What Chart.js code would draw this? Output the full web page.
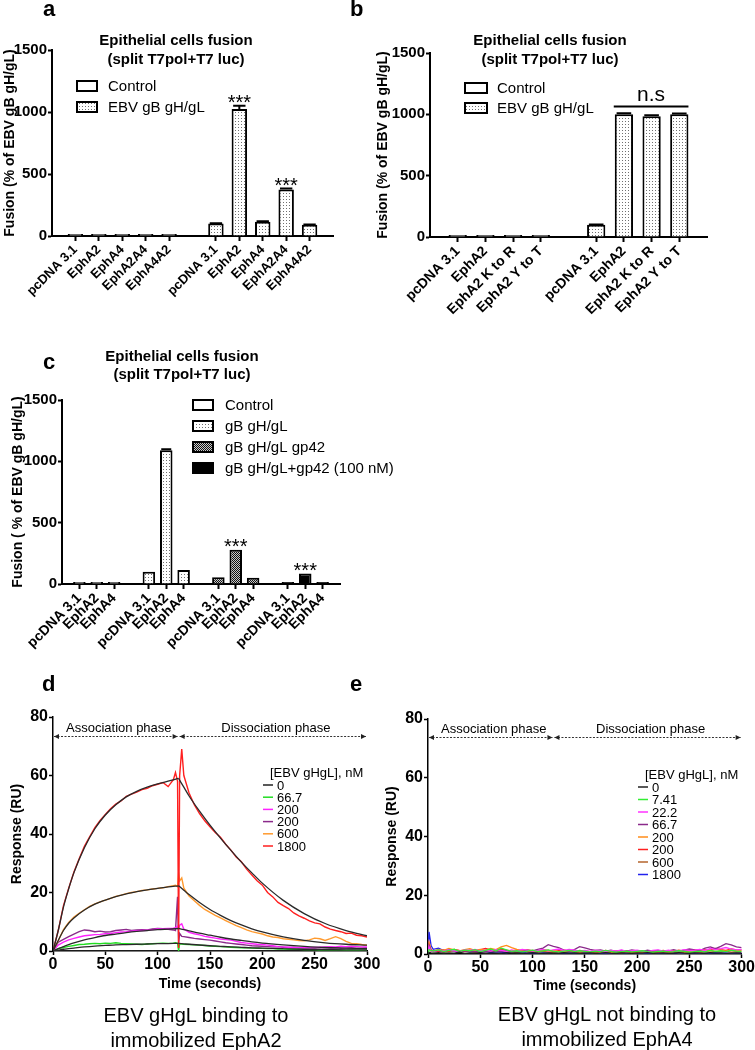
<!DOCTYPE html>
<html><head><meta charset="utf-8">
<script src="https://cdn.jsdelivr.net/npm/chart.js"></script>
<style>
html,body{margin:0;padding:0;background:#fff;}
body{width:755px;height:1050px;position:relative;overflow:hidden;font-family:'Liberation Sans',Arial,Helvetica,sans-serif;}
canvas{position:absolute;}
.t{position:absolute;color:#000;white-space:nowrap;}
.lab{font-weight:bold;font-size:22px;line-height:22px;}
.ttl{font-weight:bold;font-size:15px;line-height:19px;text-align:center;width:260px;}
.cap{font-size:20px;line-height:25px;text-align:center;width:300px;}
</style></head>
<body>
<canvas id="ca" width="375" height="330" style="left:0;top:0"></canvas>
<canvas id="cb" width="380" height="330" style="left:375px;top:0"></canvas>
<canvas id="cc" width="420" height="330" style="left:0;top:330px"></canvas>
<canvas id="cd" width="395" height="355" style="left:0;top:640px"></canvas>
<canvas id="ce" width="380" height="355" style="left:375px;top:640px"></canvas>

<div class="t lab" style="left:43px;top:-2px">a</div>
<div class="t lab" style="left:350px;top:-2px">b</div>
<div class="t lab" style="left:43px;top:351px">c</div>
<div class="t lab" style="left:42px;top:673px">d</div>
<div class="t lab" style="left:350px;top:673px">e</div>

<div class="t ttl" style="left:46px;top:30px">Epithelial cells fusion<br>(split T7pol+T7 luc)</div>
<div class="t ttl" style="left:420px;top:30px">Epithelial cells fusion<br>(split T7pol+T7 luc)</div>
<div class="t ttl" style="left:52px;top:347px;line-height:18px">Epithelial cells fusion<br>(split T7pol+T7 luc)</div>

<div class="t cap" style="left:46px;top:1003px">EBV gHgL binding to<br>immobilized EphA2</div>
<div class="t cap" style="left:457px;top:1002px">EBV gHgL not binding to<br>immobilized EphA4</div>

<script>
// ================= DATA =================
// Panel a
const aLabels = ['', 'pcDNA 3.1', 'EphA2', 'EphA4', 'EphA2A4', 'EphA4A2', '', 'pcDNA 3.1', 'EphA2', 'EphA4', 'EphA2A4', 'EphA4A2', ''];
const aControl = [null, 5, 8, 5, 6, 5, null, null, null, null, null, null, null];
const aEBV = [null, null, null, null, null, null, null, 100, 1025, 115, 375, 90, null];
const aEBVErr = [0, 0, 0, 0, 0, 0, 0, 3, 25, 3, 8, 3, 0];
const aEBVSig = [null, null, null, null, null, null, null, null, '***', null, '***', null, null];

// Panel b
const bLabels = ['', 'pcDNA 3.1', 'EphA2', 'EphA2 K to R', 'EphA2 Y to T', '', 'pcDNA 3.1', 'EphA2', 'EphA2 K to R', 'EphA2 Y to T', ''];
const bControl = [null, 3, 3, 6, 3, null, null, null, null, null, null];
const bEBV = [null, null, null, null, null, null, 100, 1000, 985, 1000, null];
const bEBVErr = [0, 0, 0, 0, 0, 0, 2, 8, 8, 6, 0];
const bNsValue = 1068;

// Panel c
const cLabels = ['', 'pcDNA 3.1', 'EphA2', 'EphA4', '', 'pcDNA 3.1', 'EphA2', 'EphA4', '', 'pcDNA 3.1', 'EphA2', 'EphA4', '', 'pcDNA 3.1', 'EphA2', 'EphA4', ''];
const cControl = [null, 5, 12, 8, null, null, null, null, null, null, null, null, null, null, null, null, null];
const cGB = [null, null, null, null, null, 100, 1090, 115, null, null, null, null, null, null, null, null, null];
const cGBErr = [0, 0, 0, 0, 0, 0, 8, 0, 0, 0, 0, 0, 0, 0, 0, 0, 0];
const cGp42 = [null, null, null, null, null, null, null, null, null, 55, 280, 50, null, null, null, null, null];
const cGp42Sig = [null, null, null, null, null, null, null, null, null, null, '***', null, null, null, null, null, null];
const cGp42nM = [null, null, null, null, null, null, null, null, null, null, null, null, null, 5, 85, 15, null];
const cGp42nMSig = [null, null, null, null, null, null, null, null, null, null, null, null, null, null, '***', null, null];

// Panel d (time in seconds)
const dTimes = [0,5,10,15,20,25,30,35,40,45,50,55,60,65,70,75,80,85,90,95,100,105,110,115,
  117,119,120,121,123,125,
  130,135,140,145,150,155,160,165,170,175,180,185,190,195,200,205,210,215,220,225,230,235,240,245,250,255,260,265,270,275,280,285,290,295,300];
const d1800 = [0,7,15.5,21.5,27,31.5,35.8,39,42.2,44.6,46.7,48.6,50.2,51.3,52.9,53.6,54.3,55.2,55.6,56.5,57,57.6,56.2,58.6,
  61,58,1,60,69,60,
  54,50,47,44.5,42.5,40.5,38.9,36.5,34.5,32.1,30.5,28,26,24,22.5,20,18.5,16.6,15.5,14.5,13,12,11.2,10.3,9.6,9.3,8.2,7.5,7,6.6,6,6.1,5.4,5.2,4.8];
const d600 = [0,3.5,7.3,9.8,11.6,12.9,14.1,15.3,16.1,16.8,17.4,18,18.7,19.1,19.6,20,20.3,20.7,20.9,21.2,21.4,21.6,22,22.3,
  22.5,22,26.5,24,25,21.5,
  18.8,17.2,15.6,14.2,13.2,12.2,11.3,10.4,9.5,8.7,8,7.2,6.6,6.2,5.8,5.2,4.8,4.6,4.2,4,3.8,3.6,3.5,3.8,4.4,4.2,3.6,4.2,4.9,4.2,3.3,2.6,2.5,2.2,2];
const d200b = [0,3,4,4.9,5.8,6.6,7.2,7,6.6,6.8,6.5,6.6,7,7.2,7.4,7,7.2,7.3,7.2,7.5,7.7,7.6,7.4,7.2,
  7,18.5,2.7,6,5,4.9,
  4.6,4.3,4.1,3.9,3.7,3.4,3.1,2.8,2.6,2.4,2.2,2,1.8,1.7,1.6,1.5,1.4,1.5,1.3,1.2,1.3,1.1,1.2,1.1,1,1.2,1.1,1,1.1,0.9,1,1.1,0.9,1,1.1];
const d200a = [0,2,3,3.8,4.3,4.8,5.2,5.4,5.6,5.7,5.9,6,6.3,6.5,6.6,6.8,6.9,7,7.1,7.3,7.5,7.6,7.7,7.8,
  8,8.5,7.5,8.8,9.3,7.5,
  6.4,5.9,5.5,5,4.7,4.4,4.1,3.9,3.7,3.3,2.9,2.7,2.5,2.3,2.2,2,1.8,1.5,1.4,1.3,1.2,1.2,1.1,1.1,1.2,1.3,1.4,1.5,1.4,1.6,1.5,1.6,1.5,1.4,1.4];
const d66 = [0,0.8,1.2,1.6,1.9,2.2,2.3,2.5,2.6,2.5,2.7,2.6,2.8,2.6,2.5,2.4,2.3,2.2,2.4,2.5,2.6,2.7,2.6,2.7,
  2.8,2.6,0.1,2.5,2.4,2.3,
  2.2,2.1,2,1.9,1.7,1.6,1.5,1.4,1.3,1.2,1.1,1.1,1,0.9,0.9,0.8,0.8,0.7,0.7,0.6,0.6,0.6,0.5,0.5,0.5,0.4,0.5,0.4,0.4,0.4,0.3,0.4,0.3,0.3,0.3];
const dZeroTimes = [0, 300];
const d0 = [0, 0];
// fitted curves
const fitAssocTimes = [0,5,10,15,20,30,40,50,60,70,80,90,100,110,120];
const fitDissTimes = [120,125,130,140,150,160,170,180,190,200,220,240,260,280,300];
const fit1800Assoc = [0,7,15,21.3,26.8,35.3,41.8,46.5,50,52.7,54.6,56,57.1,58.1,59];
const fit1800Diss = [59,56,53,47.8,43,38.6,34.4,30.4,26.7,23.2,17.3,12.8,9.4,7,5.2];
const fit600Assoc = [0,3.6,7,9.5,11.3,14,16,17.4,18.6,19.5,20.3,20.9,21.4,21.9,22.3];
const fit600Diss = [22.3,20.8,19.3,16.6,14.2,12.2,10.4,8.9,7.6,6.5,4.8,3.6,2.8,2.3,2];
const fit200Assoc = [0,0.8,1.5,2.2,2.8,3.8,4.6,5.3,5.8,6.3,6.7,7,7.3,7.5,7.7];
const fit200Diss = [7.7,7.3,6.9,6.1,5.4,4.7,4.1,3.6,3.1,2.7,2.1,1.6,1.2,1,0.8];
const fit66Assoc = [0,0.3,0.6,0.8,1,1.4,1.7,1.9,2.1,2.2,2.3,2.4,2.5,2.55,2.6];
const fit66Diss = [2.6,2.45,2.3,2.05,1.8,1.6,1.4,1.25,1.1,1,0.8,0.6,0.5,0.4,0.35];
const dLegendLabels = ['0', '66.7', '200', '200', '600', '1800'];

// Panel e
const eTimes = [0,1,3,5,10,15,20,25,30,35,40,45,50,55,60,65,70,75,80,85,90,95,100,105,110,115,120,125,130,135,140,145,150,
  155,160,165,170,175,180,185,190,195,200,205,210,215,220,225,230,235,240,245,250,255,260,265,270,275,280,285,290,295,300];
const e0 = [0,0.6,0.4, 0.3,0.5,0.2,0.4,0.3,0.6,0.2,0.4,0.3,0.5, 0.2,0.4,0.3,0.2,0.5,0.3,0.4,0.2,0.3,0.5, 0.3,0.2,0.4,0.3,0.2,0.5,0.3,0.4,0.2,0.3, 0.4,0.2,0.3,0.5,0.3,0.2,0.4,0.3,0.2,0.4, 0.3,0.5,0.2,0.3,0.4,0.2,0.3,0.5,0.3,0.2, 0.4,0.3,0.2,0.5,0.3,0.4,0.2,0.3,0.4,0.3];
const e741 = [0,1.5,1.2, 1.0,1.4,0.8,1.2,1.6,0.9,1.3,1.1,1.5,0.8, 1.2,1.7,1.0,2.0,1.4,0.9,1.1,0.7,1.0,1.3, 0.8,1.1,1.4,0.9,0.7,1.0,1.2,0.8,1.1,0.9, 0.7,1.0,0.8,1.2,0.9,0.6,0.8,1.0,0.7,0.9, 1.1,0.8,0.6,0.9,1.0,0.7,0.8,1.1,0.9,0.6, 0.8,1.0,0.7,1.2,0.9,1.1,0.8,1.3,1.0,0.9];
const e222 = [0,2.5,1.0, 0.8,1.3,1.0,1.5,1.1,0.9,1.4,1.2,1.6,1.0, 1.3,1.0,1.5,1.2,0.9,1.4,1.1,1.6,1.3,1.0, 1.2,1.5,1.1,1.4,1.7,1.2,1.6,1.3,1.0,1.2, 0.9,1.3,1.1,0.8,1.2,1.0,1.4,0.9,1.1,1.3, 1.0,0.8,1.2,1.4,1.0,1.3,0.9,1.1,1.5,1.2, 1.3,1.6,1.2,1.9,1.5,1.8,2.2,1.7,1.4,1.6];
const e667 = [0,3,1.2, 0.9,1.2,0.7,1.5,1.0,0.8,1.1,0.9,0.7,1.0, 0.8,1.1,0.9,0.7,1.2,0.8,1.0,0.9,1.3,1.1, 1.6,2.0,3.2,2.6,2.2,1.3,0.9,1.5,2.5,2.1, 1.6,1.2,1.4,1.0,1.3,0.9,1.2,1.0,1.4,1.1, 0.9,1.3,1.0,1.2,0.8,1.1,1.5,1.0,1.3,1.7, 1.4,1.2,2.0,2.4,1.8,2.6,3.5,3.1,2.4,2.2];
const e200a = [0,4,1.5, 1.0,1.6,1.2,1.9,1.4,1.1,1.5,1.8,1.2,1.6, 1.3,1.9,1.5,2.4,2.9,2.2,1.6,1.2,1.5,1.1, 0.9,1.3,1.0,1.2,0.8,1.1,0.9,1.2,0.8,1.0, 0.7,1.0,0.8,1.1,0.6,0.9,0.7,1.0,0.8,0.6, 0.9,0.7,1.0,0.8,0.6,0.9,1.1,0.8,0.7,1.0, 1.2,0.9,1.4,1.1,1.6,1.3,1.0,1.5,1.2,1.4];
const e200b = [0,3.5,1.3, 1.1,0.8,1.4,1.0,1.6,1.2,0.9,1.3,1.1,1.5, 1.9,1.4,1.2,1.7,1.3,1.0,1.4,1.1,0.9,1.2, 1.0,1.4,1.2,0.9,1.1,1.3,1.0,0.8,1.2,1.0, 0.8,1.1,0.9,1.2,0.7,1.0,0.8,1.1,0.9,0.7, 1.0,0.8,1.1,0.9,1.2,0.8,1.0,1.3,0.9,1.1, 1.4,1.1,1.6,1.3,1.9,1.5,1.2,1.7,1.4,1.3];
const e600 = [0,2.5,0.9, 0.7,1.0,0.6,0.9,1.1,0.7,0.8,1.0,0.6,0.9, 0.7,1.0,0.8,1.2,0.9,0.7,0.6,0.9,0.7,0.8, 0.6,0.9,0.7,0.5,0.8,0.6,0.9,0.7,0.5,0.8, 0.6,0.4,0.7,0.5,0.8,0.6,0.4,0.7,0.5,0.6, 0.5,0.7,0.4,0.6,0.8,0.5,0.7,0.4,0.6,0.5, 0.7,0.5,0.8,0.6,0.9,0.7,1.0,0.6,0.8,0.7];
const e1800 = [0,7.5,2.8, 1.6,2.0,1.2,0.9,1.3,0.8,1.0,0.7,0.9,0.6, 0.8,0.5,0.7,0.6,0.4,0.7,0.5,0.6,0.4,0.5, 0.3,0.5,0.4,0.6,0.3,0.5,0.4,0.3,0.5,0.4, 0.3,0.4,0.2,0.4,0.3,0.5,0.3,0.2,0.4,0.3, 0.2,0.4,0.3,0.2,0.4,0.3,0.5,0.3,0.2,0.4, 0.3,0.2,0.4,0.3,0.5,0.3,0.4,0.2,0.3,0.4];
const eLegendLabels = ['0', '7.41', '22.2', '66.7', '200', '200', '600', '1800'];

// ================= STYLE / HELPERS =================
const FONT = "'Liberation Sans', Arial, Helvetica, sans-serif";
const NARROW = "'Liberation Sans Narrow', 'Arial Narrow', 'Liberation Sans', Arial, sans-serif";
Chart.defaults.font.family = FONT;
Chart.defaults.color = '#000';
const plainNum = v => String(v);

function pattern(kind) {
  const c = document.createElement('canvas');
  const x = c.getContext('2d');
  if (kind === 'dots') {
    c.width = 3; c.height = 3;
    x.fillStyle = '#fff'; x.fillRect(0, 0, 3, 3);
    x.fillStyle = '#707070'; x.fillRect(1, 1, 1, 1);
  } else {
    c.width = 2; c.height = 2;
    x.fillStyle = '#c8c8c8'; x.fillRect(0, 0, 2, 2);
    x.fillStyle = '#111'; x.fillRect(0, 0, 1, 1); x.fillRect(1, 1, 1, 1);
  }
  return document.createElement('canvas').getContext('2d').createPattern(c, 'repeat');
}
const DOTS = pattern('dots');
const CHECK = pattern('check');

const errPlugin = {
  id: 'errbars',
  afterDatasetsDraw(chart) {
    const ctx = chart.ctx, y = chart.scales.y;
    chart.data.datasets.forEach((ds, di) => {
      if (!ds.errorBars) return;
      const meta = chart.getDatasetMeta(di);
      meta.data.forEach((bar, i) => {
        const v = ds.data[i], e = ds.errorBars[i];
        if (v == null || !e) return;
        const top = y.getPixelForValue(v + e), base = y.getPixelForValue(v);
        const hw = bar.width * 0.4;
        ctx.save(); ctx.strokeStyle = '#000'; ctx.lineWidth = 2;
        ctx.beginPath(); ctx.moveTo(bar.x, base); ctx.lineTo(bar.x, top);
        ctx.moveTo(bar.x - hw, top); ctx.lineTo(bar.x + hw, top); ctx.stroke(); ctx.restore();
      });
    });
  }
};
const sigPlugin = {
  id: 'sig',
  afterDatasetsDraw(chart) {
    const ctx = chart.ctx, y = chart.scales.y;
    chart.data.datasets.forEach((ds, di) => {
      if (!ds.sig) return;
      const meta = chart.getDatasetMeta(di);
      ds.sig.forEach((s, i) => {
        if (!s) return;
        const bar = meta.data[i];
        const v = ds.data[i] + ((ds.errorBars && ds.errorBars[i]) || 0);
        ctx.save(); ctx.font = '20px ' + FONT; ctx.fillStyle = '#000';
        ctx.textAlign = 'center'; ctx.textBaseline = 'alphabetic';
        ctx.fillText(s, bar.x, y.getPixelForValue(v) + 3); ctx.restore();
      });
    });
  }
};
function boxLegend(cfg) {
  return {
    id: 'boxLegend',
    afterDraw(chart) {
      const ctx = chart.ctx;
      ctx.save(); ctx.font = cfg.size + 'px ' + FONT; ctx.textBaseline = 'middle'; ctx.textAlign = 'left';
      chart.data.datasets.forEach((ds, i) => {
        const yc = cfg.y + i * cfg.dy;
        ctx.fillStyle = ds.backgroundColor;
        ctx.fillRect(cfg.x, yc - cfg.h / 2, cfg.w, cfg.h);
        ctx.lineWidth = 2; ctx.strokeStyle = '#000';
        ctx.strokeRect(cfg.x, yc - cfg.h / 2, cfg.w, cfg.h);
        ctx.fillStyle = '#000';
        ctx.fillText(ds.label, cfg.tx, yc + 1);
      });
      ctx.restore();
    }
  };
}
function nsPlugin(cfg) {
  return {
    id: 'ns',
    afterDatasetsDraw(chart) {
      const ctx = chart.ctx, y = chart.scales.y;
      const meta = chart.getDatasetMeta(cfg.ds);
      const b0 = meta.data[cfg.from], b1 = meta.data[cfg.to];
      const x0 = b0.x - b0.width / 2 - 1, x1 = b1.x + b1.width / 2;
      const py = Math.round(y.getPixelForValue(cfg.value)) + 0.5;
      ctx.save(); ctx.strokeStyle = '#000'; ctx.lineWidth = 2;
      ctx.beginPath(); ctx.moveTo(x0, py); ctx.lineTo(x1, py); ctx.stroke();
      ctx.font = '21px ' + FONT; ctx.fillStyle = '#000'; ctx.textAlign = 'center'; ctx.textBaseline = 'alphabetic';
      ctx.fillText(cfg.text, (x0 + x1) / 2, py - 6);
      ctx.restore();
    }
  };
}
function lineLegend(cfg) {
  return {
    id: 'lineLegend',
    afterDraw(chart) {
      const ctx = chart.ctx;
      ctx.save(); ctx.font = cfg.size + 'px ' + FONT; ctx.textBaseline = 'middle'; ctx.textAlign = 'left'; ctx.fillStyle = '#000';
      ctx.fillText(cfg.title, cfg.x, cfg.ty);
      cfg.items.forEach((it, i) => {
        const yc = cfg.iy + i * cfg.dy;
        ctx.strokeStyle = it.color; ctx.lineWidth = 1.5;
        ctx.beginPath(); ctx.moveTo(cfg.lx, yc); ctx.lineTo(cfg.lx + 10, yc); ctx.stroke();
        ctx.fillStyle = '#000'; ctx.fillText(it.text, cfg.tx, yc + 1);
      });
      ctx.restore();
    }
  };
}
function phasePlugin(cfg) {
  return {
    id: 'phases',
    afterDraw(chart) {
      const ctx = chart.ctx, xs = chart.scales.x, ys = chart.scales.y;
      const py = Math.round(ys.getPixelForValue(cfg.value)) + 0.5;
      const segs = [[0, cfg.split, cfg.labels[0]], [cfg.split, 300, cfg.labels[1]]];
      ctx.save();
      segs.forEach(([a, b, txt]) => {
        const xa = xs.getPixelForValue(a) + 1, xb = xs.getPixelForValue(b) - 1;
        ctx.strokeStyle = '#333'; ctx.lineWidth = 1; ctx.setLineDash([2, 1.5]);
        ctx.beginPath(); ctx.moveTo(xa, py); ctx.lineTo(xb, py); ctx.stroke();
        ctx.setLineDash([]); ctx.fillStyle = '#222';
        ctx.beginPath(); ctx.moveTo(xa, py); ctx.lineTo(xa + 5, py - 2.5); ctx.lineTo(xa + 5, py + 2.5); ctx.closePath(); ctx.fill();
        ctx.beginPath(); ctx.moveTo(xb, py); ctx.lineTo(xb - 5, py - 2.5); ctx.lineTo(xb - 5, py + 2.5); ctx.closePath(); ctx.fill();
        ctx.font = '13px ' + FONT; ctx.fillStyle = '#000'; ctx.textAlign = 'center'; ctx.textBaseline = 'alphabetic';
        ctx.fillText(txt, (xa + xb) / 2 + 3, py - 5);
      });
      ctx.restore();
    }
  };
}

function barDs(label, data, fill, pct, extra) {
  return Object.assign({
    label, data, backgroundColor: fill, borderColor: '#000', borderWidth: 2,
    grouped: false, categoryPercentage: 1, barPercentage: pct, minBarLength: 2
  }, extra || {});
}

function barChart(id, labels, datasets, o, extraPlugins) {
  return new Chart(document.getElementById(id), {
    type: 'bar',
    data: { labels, datasets },
    options: {
      responsive: false, animation: false, devicePixelRatio: 1,
      layout: { padding: { top: o.top, right: o.right, left: 0, bottom: 0 } },
      plugins: { legend: { display: false }, tooltip: { enabled: false } },
      scales: {
        x: {
          type: 'category', offset: false,
          afterFit: s => { s.height = o.xh; },
          grid: { display: true, offset: false, drawOnChartArea: false, drawTicks: true, tickLength: 5, tickWidth: 2,
                  tickColor: c => (c.tick && c.tick.label) ? '#000' : 'rgba(0,0,0,0)' },
          border: { display: true, color: '#000', width: 2 },
          ticks: { autoSkip: false, maxRotation: 45, minRotation: 45, padding: 1, font: { size: o.xFont, weight: 'bold' }, color: '#000' }
        },
        y: {
          min: 0, max: 1500,
          afterFit: s => { s.width = o.yw; },
          ticks: { stepSize: 500, padding: 1, callback: plainNum, font: { family: NARROW, size: 15, weight: 'bold' }, color: '#000' },
          grid: { display: true, drawOnChartArea: false, drawTicks: true, tickLength: 4, tickWidth: 2, tickColor: '#000' },
          border: { display: true, color: '#000', width: 2 },
          title: { display: true, text: o.ytitle, font: { size: 14, weight: 'bold' }, color: '#000', padding: { top: o.ytp, bottom: 0 } }
        }
      }
    },
    plugins: [errPlugin, sigPlugin].concat(extraPlugins || [])
  });
}

function toXY(times, vals) { return vals.map((v, i) => ({ x: times[i], y: v })); }
function lineDs(label, times, vals, color, order, w) {
  return { label, data: toXY(times, vals), borderColor: color, borderWidth: w || 1.4, pointRadius: 0, fill: false, tension: 0, order: order };
}
function fitDs(times, vals) {
  return { label: 'fit', data: toXY(times, vals), borderColor: '#2a2a2a', borderWidth: 1.3, pointRadius: 0, fill: false, cubicInterpolationMode: 'monotone', order: 0 };
}

function kineticsChart(id, datasets, o, extraPlugins) {
  return new Chart(document.getElementById(id), {
    type: 'line',
    data: { datasets },
    options: {
      responsive: false, animation: false, devicePixelRatio: 1,
      layout: { padding: { top: o.top, right: o.right, left: 0, bottom: 0 } },
      plugins: { legend: { display: false }, tooltip: { enabled: false } },
      scales: {
        x: {
          type: 'linear', min: 0, max: 300,
          afterFit: s => { s.height = o.xh; },
          ticks: { stepSize: 50, padding: 0, callback: plainNum, font: { family: NARROW, size: 16, weight: 'bold' }, color: '#000' },
          grid: { display: true, drawOnChartArea: false, drawTicks: true, tickLength: 4, tickWidth: 1.5, tickColor: '#000' },
          border: { display: true, color: '#000', width: 1.5 },
          title: { display: true, text: 'Time (seconds)', font: { size: 14, weight: 'bold' }, color: '#000', padding: { top: 0, bottom: o.xtp } }
        },
        y: {
          min: 0, max: 80,
          afterFit: s => { s.width = 53; },
          ticks: { stepSize: 20, padding: 1, callback: plainNum, font: { family: NARROW, size: 16, weight: 'bold' }, color: '#000' },
          grid: { display: true, drawOnChartArea: false, drawTicks: true, tickLength: 4, tickWidth: 1.5, tickColor: '#000' },
          border: { display: true, color: '#000', width: 1.5 },
          title: { display: true, text: 'Response (RU)', font: { size: 14, weight: 'bold' }, color: '#000', padding: { top: 9, bottom: 0 } }
        }
      }
    },
    plugins: extraPlugins
  });
}

// ================= CHARTS =================
// a
barChart('ca', aLabels, [
  barDs('Control', aControl, '#fff', 0.66),
  barDs('EBV gB gH/gL', aEBV, DOTS, 0.66, { errorBars: aEBVErr, sig: aEBVSig })
], { top: 50, right: 42, xh: 94, yw: 52, xFont: 13, ytitle: 'Fusion (% of EBV gB gH/gL)', ytp: 2 },
[boxLegend({ x: 77, y: 86, dy: 21, w: 20, h: 10, tx: 108, size: 15 })]);

// b
barChart('cb', bLabels, [
  barDs('Control', bControl, '#fff', 0.66),
  barDs('EBV gB gH/gL', bEBV, DOTS, 0.66, { errorBars: bEBVErr })
], { top: 53, right: 48, xh: 93, yw: 55, xFont: 14, ytitle: 'Fusion (% of EBV gB gH/gL)', ytp: 0 },
[boxLegend({ x: 90, y: 88, dy: 20, w: 22, h: 10, tx: 122, size: 15 }),
 nsPlugin({ ds: 1, from: 7, to: 9, value: bNsValue, text: 'n.s' })]);

// c
barChart('cc', cLabels, [
  barDs('Control', cControl, '#fff', 0.72),
  barDs('gB gH/gL', cGB, DOTS, 0.72, { errorBars: cGBErr }),
  barDs('gB gH/gL gp42', cGp42, CHECK, 0.72, { sig: cGp42Sig }),
  barDs('gB gH/gL+gp42 (100 nM)', cGp42nM, '#000', 0.72, { sig: cGp42nMSig })
], { top: 70, right: 80, xh: 76, yw: 62, xFont: 14, ytitle: 'Fusion ( % of EBV gB gH/gL)', ytp: 10 },
[boxLegend({ x: 193, y: 75, dy: 21, w: 20, h: 10, tx: 225, size: 15 })]);

// d
const dCol = { z: '#222222', g: '#22dd22', m: '#ff22ff', p: '#8b2a8b', o: '#ff9a2e', r: '#ff1f1f' };
kineticsChart('cd', [
  fitDs(fitAssocTimes, fit1800Assoc), fitDs(fitDissTimes, fit1800Diss),
  fitDs(fitAssocTimes, fit600Assoc), fitDs(fitDissTimes, fit600Diss),
  fitDs(fitAssocTimes, fit200Assoc), fitDs(fitDissTimes, fit200Diss),
  fitDs(fitAssocTimes, fit66Assoc), fitDs(fitDissTimes, fit66Diss),
  lineDs('1800', dTimes, d1800, dCol.r, 1),
  lineDs('600', dTimes, d600, dCol.o, 1),
  lineDs('200', dTimes, d200a, dCol.m, 1),
  lineDs('200', dTimes, d200b, dCol.p, 1),
  lineDs('66.7', dTimes, d66, dCol.g, 1),
  lineDs('0', dZeroTimes, d0, dCol.z, 1)
], { top: 77, right: 28, xh: 44, xtp: 2 },
[phasePlugin({ value: 73.6, split: 120, labels: ['Association phase', 'Dissociation phase'] }),
 lineLegend({ title: '[EBV gHgL], nM', x: 270, ty: 133, iy: 145, dy: 12.2, lx: 263, tx: 277, size: 13,
   items: dLegendLabels.map((t, i) => ({ text: t, color: [dCol.z, dCol.g, dCol.m, dCol.p, dCol.o, dCol.r][i] })) })]);

// e
const eCols = ['#222222', '#33ee33', '#ff33ff', '#8b2a8b', '#ff8c1a', '#ff2020', '#b5652d', '#2222ee'];
const eSeries = [e0, e741, e222, e667, e200a, e200b, e600, e1800];
kineticsChart('ce', eSeries.map((s, i) => lineDs(eLegendLabels[i], eTimes, s, eCols[i], 1, 1.3)),
  { top: 79, right: 13, xh: 41, xtp: 0 },
  [phasePlugin({ value: 73.8, split: 120, labels: ['Association phase', 'Dissociation phase'] }),
   lineLegend({ title: '[EBV gHgL], nM', x: 270, ty: 135, iy: 147, dy: 12.5, lx: 263, tx: 277, size: 13,
     items: eLegendLabels.map((t, i) => ({ text: t, color: eCols[i] })) })]);
</script>
</body></html>
